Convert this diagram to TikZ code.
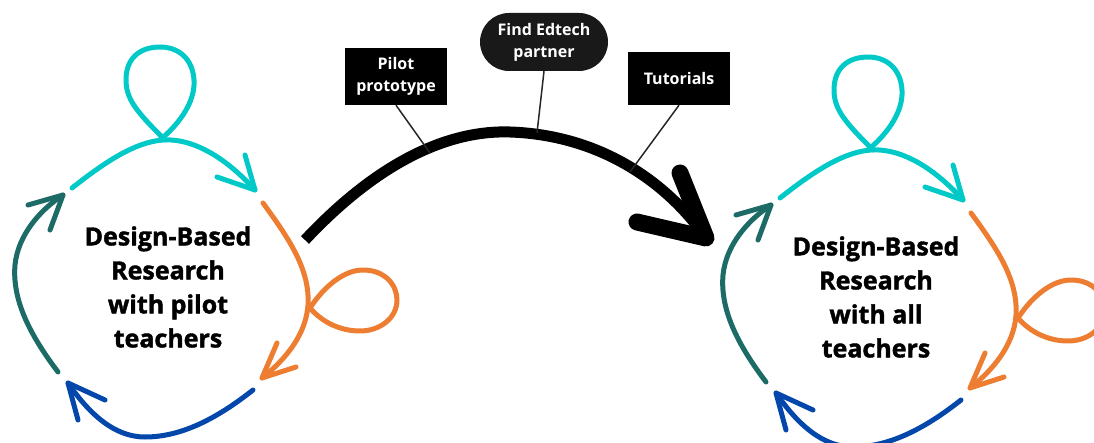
\documentclass[tikz,border=0pt]{standalone}
\usepackage{fontspec}
\setmainfont{Open Sans}
\newfontfamily\heavyfont{Open Sans}[BoldFeatures={FakeBold=1.6}]
\definecolor{dbcyan}{RGB}{0,201,200}
\definecolor{dborange}{RGB}{237,125,49}
\definecolor{dbblue}{RGB}{3,71,171}
\definecolor{dbteal}{RGB}{29,107,103}
\tikzset{
  arcline/.style={line width=5pt, line cap=round, line join=round},
  leadline/.style={draw=black!85, line width=1.5pt},
  tagbox/.style={fill=black, text=white, font=\bfseries\fontsize{16}{22}\selectfont, align=center, minimum width=102pt, inner sep=0pt},
  dbrtext/.style={font=\heavyfont\bfseries\fontsize{25}{34}\selectfont, align=center, inner sep=0pt},
  dbrcycle/.pic={
    \draw[arcline,dbcyan] (72,188) .. controls (105,162) and (135,142) .. (163,140) .. controls (195,138) and (228,160) .. (255,190);
    \draw[arcline,dbcyan] (217,177) -- (255,190) -- (245,155);
    \draw[arcline,dbcyan] (165,140) .. controls (138,113) and (126,100) .. (126,80) .. controls (126,58) and (140,47) .. (160,47) .. controls (182,47) and (195,63) .. (194,85) .. controls (193,105) and (178,125) .. (160,140);
    \draw[arcline,dborange] (263,203) .. controls (290,240) and (310,270) .. (308,305) .. controls (306,335) and (285,360) .. (262,378);
    \draw[arcline,dborange] (277,343) -- (262,378) -- (296,367);
    \draw[arcline,dborange] (310,308) .. controls (325,285) and (345,270) .. (363,270) .. controls (385,270) and (397,285) .. (397,300) .. controls (397,318) and (380,331) .. (360,331) .. controls (340,331) and (322,322) .. (310,308);
    \draw[arcline,dbblue] (253,390) .. controls (215,420) and (180,437) .. (145,437) .. controls (115,437) and (90,415) .. (68,383);
    \draw[arcline,dbblue] (78,420) -- (68,383) -- (105,400);
    \draw[arcline,dbteal] (58,372) .. controls (30,335) and (12,300) .. (15,265) .. controls (18,235) and (40,210) .. (63,195);
    \draw[arcline,dbteal] (28,205) -- (63,195) -- (50,230);
  }
}
\begin{document}
\begin{tikzpicture}[x=1pt,y=-1pt]
\useasboundingbox (0,0) rectangle (1094,443);
\pic at (0,0) {dbrcycle};
\pic at (708,10) {dbrcycle};
\node[dbrtext] (left) at (168,287) {Design-Based\\Research\\with pilot\\teachers};
\node[dbrtext] (right) at (876,297) {Design-Based\\Research\\with all\\teachers};
% big arrow
\draw[line width=11pt] (305,240) .. controls (380,160) and (450,130) .. (510,132) .. controls (600,135) and (667,182) .. (706,238);
\draw[line width=17pt, line cap=round, line join=round] (680,173) -- (706,238) -- (637,222);
\coordinate (p1) at (430,153);
\coordinate (p2) at (537,133);
\coordinate (p3) at (630,172);
\node[tagbox, minimum height=57pt] (pilot) at (396,76.5) {Pilot\\prototype};
\node[tagbox, minimum height=58pt, minimum width=128pt, rounded corners=29pt, fill=black!90] (edtech) at (544,42) {Find Edtech\\partner};
\node[tagbox, minimum height=53pt] (tut) at (679,78.5) {Tutorials};
\draw[leadline] (pilot.south) -- (p1);
\draw[leadline] (edtech.south) -- (p2);
\draw[leadline] (tut.south) -- (p3);
\end{tikzpicture}
\end{document}
